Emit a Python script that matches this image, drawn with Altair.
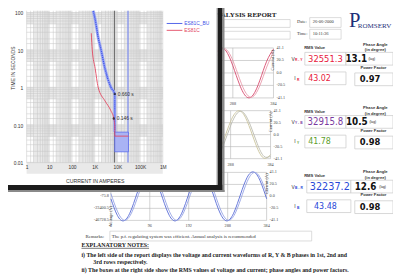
import altair as alt
import pandas as pd

# ---------------- data: time-current characteristic ----------------
SERIES = ["ES81C_BU", "ES81C"]
BU_CURRENT = [861, 1050, 1415, 1905, 2837, 5150, 7660, 7660]
BU_TIME = [112, 65.6, 22.2, 10.2, 3.24, 1.03, 0.676, 0.065]
C_CURRENT = [706, 780, 1050, 1415, 2837, 5150, 6937, 7660, 7660, 30800]
C_TIME = [28.3, 10.2, 3.24, 1.03, 0.443, 0.243, 0.150, 0.098, 0.0508, 0.0508]
BU_BAND_CURRENT = [7660, 30800]
BU_BAND_TIME = [0.0194, 0.065]
BU_LIMIT_CURRENT = [29300]
PICKUP_CURRENT = [7400]
MARK_CURRENT = [7660, 6937]
MARK_TIME = [0.676, 0.150]
MARK_TEXT = ["0.660 s", "0.146 s"]
X_TICKS = [1, 10, 100, 1000, 10000, 100000, 1000000]
X_TICK_TEXT = ["1", "10", "100", "1K", "10K", "100K", "1M"]
Y_TICKS = [0.01, 0.1, 1, 10, 100]
Y_TICK_TEXT = ["0.01", "0.10", "1", "10", "100"]

# ---------------- data: report behind the chart ----------------
SAMPLES = [0, 16, 32, 48, 64, 80, 96, 112, 128, 144, 160, 176, 192, 208, 224, 240,
           256, 272, 288, 304, 320, 336, 352, 368, 384]
R_V = [39.2, 36.2, 11.9, -19.3, -39.2, -36.2, -11.9, 19.3, 39.2, 36.2, 11.9, -19.3, -39.2,
       -36.2, -11.9, 19.3, 39.2, 36.2, 11.9, -19.3, -39.2, -36.2, -11.9, 19.3, 39.2]
R_I = [34.3, 38.8, 20.5, -9.7, -34.3, -38.8, -20.5, 9.7, 34.3, 38.8, 20.5, -9.7, -34.3,
       -38.8, -20.5, 9.7, 34.3, 38.8, 20.5, -9.7, -34.3, -38.8, -20.5, 9.7, 34.3]
Y_V = [-34.1, -8.0, 22.8, 40.2, 34.1, 8.0, -22.8, -40.2, -34.1, -8.0, 22.8, 40.2, 34.1,
       8.0, -22.8, -40.2, -34.1, -8.0, 22.8, 40.2, 34.1, 8.0, -22.8, -40.2, -34.1]
Y_I = [-37.0, -15.3, 15.3, 37.0, 37.0, 15.3, -15.3, -37.0, -37.0, -15.3, 15.3, 37.0, 37.0,
       15.3, -15.3, -37.0, -37.0, -15.3, 15.3, 37.0, 37.0, 15.3, -15.3, -37.0, -37.0]
B_V = [-4.1, -32.5, -41.8, -26.7, 4.1, 32.5, 41.8, 26.7, -4.1, -32.5, -41.8, -26.7, 4.1,
       32.5, 41.8, 26.7, -4.1, -32.5, -41.8, -26.7, 4.1, 32.5, 41.8, 26.7, -4.1]
B_I = [5.0, -25.2, -40.7, -32.3, -5.0, 25.2, 40.7, 32.3, 5.0, -25.2, -40.7, -32.3, -5.0,
       25.2, 40.7, 32.3, 5.0, -25.2, -40.7, -32.3, -5.0, 25.2, 40.7, 32.3, 5.0]
CURRENT_TICKS = [41.1, 20.5, 0.0, -20.5, -41.1]
CURRENT_TICK_TEXT = ["41.1", "20.5", "0.0", "-20.5", "-41.1"]
SAMPLE_TICKS = [0, 96, 192, 288, 384]
VOLT_TICK_TEXT = ["-75.8", "-23400.5", "-46728.5"]
V_SUB = ["R - Y", "Y - B", "B - R"]
I_SUB = ["R", "Y", "B"]
RMS_V = ["32551.3", "32915.8", "32237.2"]
RMS_I = ["43.02", "41.78", "43.48"]
PHASE_ANGLE = ["13.1", "10.5", "12.6"]
POWER_FACTOR = ["0.97", "0.98", "0.98"]
REPORT_DATE = "26-06-2000"
REPORT_TIME = "10:11:36"
REMARK = "The p.f. regulating system was efficient. Annual analysis is recommended"
NOTES = ["i) The left side of the report displays the voltage and current waveforms of R, Y & B phases in 1st, 2nd and",
         "3rd rows respectively.",
         "ii) The boxes at the right side show the RMS values of voltage and current; phase angles and power factors."]

# ---------------- layout / style ----------------
W, H = 139, 155
OX, OY = 27, 8
BLUE, BLUE_LIGHT, RED = "#3f52e6", "#9aa7f4", "#e2455f"
SANS, SERIF, LCD = "Liberation Sans", "Liberation Serif", "Liberation Sans Narrow, DejaVu Sans Condensed, Liberation Sans"


def page_x():
    return alt.Scale(domain=[OX, OX + W], nice=False, zero=False)


def page_y():
    return alt.Scale(domain=[OY, OY + H], reverse=True, nice=False, zero=False)


def lin_x(a, b, p, q):
    k = (q - p) / (b - a)
    d0 = a - (p - OX) / k
    return alt.Scale(domain=[d0, d0 + W / k], nice=False, zero=False)


def lin_y(a, b, p, q):
    k = (q - p) / (b - a)
    d0 = a - (p - OY) / k
    return alt.Scale(domain=[d0, d0 + H / k], reverse=True, nice=False, zero=False)


X_LOG = alt.Scale(type="log", domain=[1, 1e6], nice=False)
Y_LOG = alt.Scale(type="log", domain=[0.01, 112.7], nice=False)


def texts(rows, sx=None, sy=None, **mk):
    df = pd.DataFrame(rows, columns=["t", "x", "y"])
    mk.setdefault("baseline", "middle")
    return alt.Chart(df).mark_text(**mk).encode(
        x=alt.X("x:Q", scale=sx or page_x(), axis=None),
        y=alt.Y("y:Q", scale=sy or page_y(), axis=None),
        text="t:N")


def rects(rows, sx=None, sy=None, **mk):
    df = pd.DataFrame(rows, columns=["x0", "x1", "y0", "y1"])
    return alt.Chart(df).mark_rect(**mk).encode(
        x=alt.X("x0:Q", scale=sx or page_x(), axis=None), x2="x1:Q",
        y=alt.Y("y0:Q", scale=sy or page_y(), axis=None), y2="y1:Q")


def rules(rows, sx=None, sy=None, **mk):
    df = pd.DataFrame(rows, columns=["x0", "x1", "y0", "y1"])
    return alt.Chart(df).mark_rule(**mk).encode(
        x=alt.X("x0:Q", scale=sx or page_x(), axis=None), x2="x1:Q",
        y=alt.Y("y0:Q", scale=sy or page_y(), axis=None), y2="y1:Q")


layers = []

# ---------------- report: waveforms ----------------
ROWS = [dict(x0=113, x1=279, top=46, bot=97, c=("#d6456a", "#e898aa")),
        dict(x0=113, x1=276, top=110, bot=159, c=("#c9c39a", "#b9b9ae")),
        dict(x0=113, x1=272, top=173, bot=222, c=("#5468d6", "#93a0e4"))]
WAVES = [(R_V, R_I), (Y_V, Y_I), (B_V, B_I)]
for r, (vv, ii) in zip(ROWS, WAVES):
    sx = lin_x(0, 384, r["x0"], r["x1"])
    sy = lin_y(41.1, -41.1, r["top"], r["bot"])
    grid_rows = [(0, 384, v, v) for v in CURRENT_TICKS] + [(s, s, 41.1, -41.1) for s in SAMPLE_TICKS]
    layers.append(rules(grid_rows, sx, sy, color="#b4b4b4", strokeWidth=0.6))
    for vals, col in zip((vv, ii), r["c"]):
        df = pd.DataFrame({"s": SAMPLES, "v": vals})
        layers.append(alt.Chart(df).mark_line(interpolate="natural", color=col, strokeWidth=0.9).encode(
            x=alt.X("s:Q", scale=sx, axis=None), y=alt.Y("v:Q", scale=sy, axis=None)))
    layers.append(texts([(t, 384, v) for t, v in zip(CURRENT_TICK_TEXT, CURRENT_TICKS)], sx, sy,
                        font=SERIF, fontSize=4.3, color="#444", align="left", dx=3))
    layers.append(texts([(str(s), s, -41.1) for s in SAMPLE_TICKS], sx, sy,
                        font=SERIF, fontSize=4.3, color="#444", align="center", dy=6))
    layers.append(texts([("Current (A)", 384, 0)], sx, sy, font=SERIF, fontSize=4.5, color="#444",
                        align="center", angle=270, dx=13))
    layers.append(texts([(t, 0, v) for t, v in zip(VOLT_TICK_TEXT, CURRENT_TICKS[2:])], sx, sy,
                        font=SERIF, fontSize=4.3, color="#444", align="right", dx=-2))
    layers.append(texts([("Voltage (V)", 0, 0)], sx, sy, font=SERIF, fontSize=4.5, color="#444",
                        align="center", angle=270, dx=-20))

# ---------------- report: header, boxes and notes ----------------
layers.append(rects([(222, 296, 17, 25), (222, 296, 29, 37), (316, 348, 15, 25), (316, 348, 27, 37),
                     (112, 318, 233, 243)], fill="white", stroke="#c4c4c4", strokeWidth=0.6))
layers.append(texts([("ANALYSIS REPORT", 282, 12)], font=SERIF, fontSize=7.2, fontWeight="bold",
                    color="#222", align="right"))
layers.append(texts([("Date:", 303, 20), (REPORT_DATE, 319, 20), ("Time:", 303, 32), (REPORT_TIME, 319, 32)],
                    font=SERIF, fontSize=4.6, color="#333", align="left"))
layers.append(texts([("P", 356, 18.5)], font=SERIF, fontSize=21, color="#1d2f78", align="left"))
layers.append(texts([("ROMSERV", 365, 24)], font=SERIF, fontSize=7.2, color="#1d2f78", align="left"))

BOX_POS = [dict(off=0, vx=332, ix=326, px=363.5, lx=376, vs=9.5, vb=(311, 353), pb=(353, 401)),
           dict(off=64.5, vx=332, ix=326, px=364, lx=377, vs=9.8, vb=(311, 353), pb=(353, 401)),
           dict(off=130.5, vx=336.5, ix=332, px=373, lx=387, vs=11, vb=(313, 358), pb=(358, 401))]
V_COL = ["#e8203c", "#7a3aa0", "#2848d8"]
I_COL = ["#e8203c", "#5ea02e", "#2848d8"]
for i, b in enumerate(BOX_POS):
    o = b["off"]
    layers.append(rects([(b["vb"][0], b["vb"][1], 50.5 + o, 63.5 + o), (b["pb"][0], b["pb"][1], 50.5 + o, 63.5 + o),
                         (b["vb"][0], b["vb"][1], 70.5 + o, 83.5 + o), (362, 401, 71.5 + o, 84.5 + o)],
                        fill="white", stroke="#c8c8c8", strokeWidth=0.7))
    layers.append(texts([("RMS Value", 321, 46.5 + o), ("Phase Angle", 383, 42.5 + o), ("(in degree)", 383, 48.5 + o),
                         ("Power Factor", 381, 66 + o)], font=SANS, fontSize=4.2, fontWeight="bold",
                        color="#333", align="center"))
    layers.append(texts([("V", 299, 57 + o), ("I", 301, 77 + o)], font=SANS, fontSize=5, color="#333", align="center"))
    layers.append(texts([(V_SUB[i], 301, 58.5 + o)], font=SANS, fontSize=3.4, fontWeight="bold",
                        color=V_COL[i], align="left"))
    layers.append(texts([(I_SUB[i], 303, 78.5 + o)], font=SANS, fontSize=3.4, fontWeight="bold",
                        color=I_COL[i], align="left"))
    layers.append(texts([(RMS_V[i], b["vx"], 57 + o)], font=LCD, fontSize=b["vs"], color=V_COL[i], align="center"))
    layers.append(texts([(RMS_I[i], b["ix"], 77 + o)], font=LCD, fontSize=9, color=I_COL[i], align="center"))
    layers.append(texts([(PHASE_ANGLE[i], b["px"], 57 + o)], font=LCD, fontSize=10, fontWeight="bold",
                        color="#111", align="center"))
    layers.append(texts([("(lag)", b["lx"], 57 + o)], font=SANS, fontSize=3.4, color="#222", align="left"))
    layers.append(texts([(POWER_FACTOR[i], 377.5, 78 + o)], font=LCD, fontSize=9.5, fontWeight="bold",
                        color="#111", align="center"))

layers.append(texts([("Remarks:", 87, 238), (REMARK, 114, 238)], font=SERIF, fontSize=5, color="#333", align="left"))
layers.append(texts([("EXPLANATORY NOTES:", 83, 247), (NOTES[0], 83, 257), (NOTES[1], 95, 265), (NOTES[2], 83, 273)],
                    font=SERIF, fontSize=6, fontWeight="bold", color="#1a1a1a", align="left"))
layers.append(rules([(83, 152, 250.5, 250.5)], color="#1a1a1a", strokeWidth=0.6))

# ---------------- chart panel and its shadow ----------------
layers.append(rects([(0, 222, 0, 186)], fill="white"))
layers.append(rects([(220.5, 222, 0, 186)], fill="#c8c8c8"))
layers.append(rects([(222, 227, 0, 191), (6, 227, 186, 191)], fill="#1c1c1c"))
layers.append(rects([(227, 229, 0, 193), (8, 229, 191, 193)], fill="#8a8a8a"))

# ---------------- time-current chart ----------------
band_x = [(2 * 10 ** n, 9 * 10 ** n) for n in range(0, 6)]
band_y = [(5 * 10.0 ** n, 10.5 * 10.0 ** n) for n in range(-3, 3)]
layers.append(alt.Chart(pd.DataFrame(band_x, columns=["a", "b"])).mark_rect(color="#e9e9e9").encode(
    x=alt.X("a:Q", scale=X_LOG, axis=None), x2="b:Q"))
layers.append(alt.Chart(pd.DataFrame(band_y, columns=["a", "b"])).mark_rect(color="#e9e9e9").encode(
    y=alt.Y("a:Q", scale=Y_LOG, axis=None), y2="b:Q"))
gx = [k * 10 ** n for n in range(0, 6) for k in (1, 1.5, 2, 3, 4, 5, 6, 7, 8, 9)] + [1e6]
gy = [k * 10.0 ** n for n in range(-2, 3) for k in (1, 1.5, 2, 3, 4, 5, 6, 7, 8, 9) if k * 10.0 ** n <= 112]
x_lab = " : ".join(f"datum.value == {v} ? '{t}'" for v, t in zip(X_TICKS, X_TICK_TEXT)) + " : ''"
y_lab = " : ".join(f"abs(datum.value - {v}) < {v / 100} ? '{t}'" for v, t in zip(Y_TICKS, Y_TICK_TEXT)) + " : ''"
layers.append(alt.Chart(pd.DataFrame({"v": gx})).mark_rule(color="#c6c6c6", strokeWidth=0.5).encode(
    x=alt.X("v:Q", scale=X_LOG, axis=alt.Axis(
        values=X_TICKS, labelExpr=x_lab, grid=False, domain=False, ticks=False, labelFont=SANS,
        labelFontSize=5, labelColor="#333", labelPadding=2, zindex=1, title="CURRENT IN AMPERES",
        titleFont=SANS, titleFontSize=5.3, titleFontWeight="normal", titleColor="#333",
        titleY=18, titleBaseline="middle", labelFlush=False))))
layers.append(alt.Chart(pd.DataFrame({"v": gy})).mark_rule(color="#c6c6c6", strokeWidth=0.5).encode(
    y=alt.Y("v:Q", scale=Y_LOG, axis=alt.Axis(
        values=Y_TICKS, labelExpr=y_lab, grid=False, domain=False, ticks=False, labelFont=SANS,
        labelFontSize=5, labelColor="#333", labelPadding=4, zindex=1, title="TIME IN SECONDS",
        titleFont=SANS, titleFontSize=5, titleFontWeight="normal", titleColor="#333",
        titleX=-14, titleY=58, titleAngle=270, titleBaseline="middle", titleAlign="center",
        labelFlush=False))))
layers.append(alt.Chart(pd.DataFrame({"v": PICKUP_CURRENT})).mark_rule(color="#666", strokeWidth=1).encode(
    x=alt.X("v:Q", scale=X_LOG, axis=None)))
layers.append(alt.Chart(pd.DataFrame({"v": BU_LIMIT_CURRENT})).mark_rule(color="#7485f2", strokeWidth=1.1).encode(
    x=alt.X("v:Q", scale=X_LOG, axis=None)))
layers.append(alt.Chart(pd.DataFrame({"a": [BU_BAND_CURRENT[0]], "b": [BU_BAND_CURRENT[1]],
                                      "c": [BU_BAND_TIME[0]], "d": [BU_BAND_TIME[1]]})).mark_rect(
    fill="#a9b3f4", stroke="#5b6cec", strokeWidth=0.8).encode(
    x=alt.X("a:Q", scale=X_LOG, axis=None), x2="b:Q", y=alt.Y("c:Q", scale=Y_LOG, axis=None), y2="d:Q"))
bu_df = pd.DataFrame({"i": BU_CURRENT, "t": BU_TIME, "o": list(range(len(BU_CURRENT)))})
layers.append(alt.Chart(bu_df).mark_line(interpolate="monotone", color=BLUE_LIGHT, strokeWidth=3).encode(
    x=alt.X("i:Q", scale=X_LOG, axis=None), y=alt.Y("t:Q", scale=Y_LOG, axis=None), order="o:Q"))
layers.append(alt.Chart(bu_df).mark_line(interpolate="monotone", color=BLUE, strokeWidth=1.2,
                                         strokeDash=[1.2, 0.8]).encode(
    x=alt.X("i:Q", scale=X_LOG, axis=None), y=alt.Y("t:Q", scale=Y_LOG, axis=None), order="o:Q"))
c_df = pd.DataFrame({"i": C_CURRENT, "t": C_TIME, "o": list(range(len(C_CURRENT)))})
layers.append(alt.Chart(c_df).mark_line(interpolate="monotone", color=RED, strokeWidth=0.9).encode(
    x=alt.X("i:Q", scale=X_LOG, axis=None), y=alt.Y("t:Q", scale=Y_LOG, axis=None), order="o:Q"))
mark_df = pd.DataFrame({"i": MARK_CURRENT, "t": MARK_TIME, "txt": MARK_TEXT})
layers.append(alt.Chart(mark_df).mark_point(filled=True, color="#111", size=6).encode(
    x=alt.X("i:Q", scale=X_LOG, axis=None), y=alt.Y("t:Q", scale=Y_LOG, axis=None)))
layers.append(alt.Chart(mark_df).mark_text(font=SANS, fontSize=5, color="#333", align="left", dx=3).encode(
    x=alt.X("i:Q", scale=X_LOG, axis=None), y=alt.Y("t:Q", scale=Y_LOG, axis=None), text="txt:N"))
# legend
layers.append(rules([(170, 186, 21, 21)], color=BLUE, strokeWidth=0.9))
layers.append(rules([(170, 186, 28, 28)], color=RED, strokeWidth=0.9))
layers.append(texts([(SERIES[0], 188, 21)], font=SANS, fontSize=5, color=BLUE, align="left"))
layers.append(texts([(SERIES[1], 188, 28)], font=SANS, fontSize=5, color=RED, align="left"))

chart = alt.layer(*layers).resolve_scale(
    x="independent", y="independent"
).properties(
    width=W, height=H, autosize=alt.AutoSizeParams(type="none"),
    padding={"left": 19, "top": 0, "right": 393 - 19 - W, "bottom": 269 - H}
).configure_view(strokeWidth=0)

chart.save("out.html", embed_options={"renderer": "svg", "actions": False})
